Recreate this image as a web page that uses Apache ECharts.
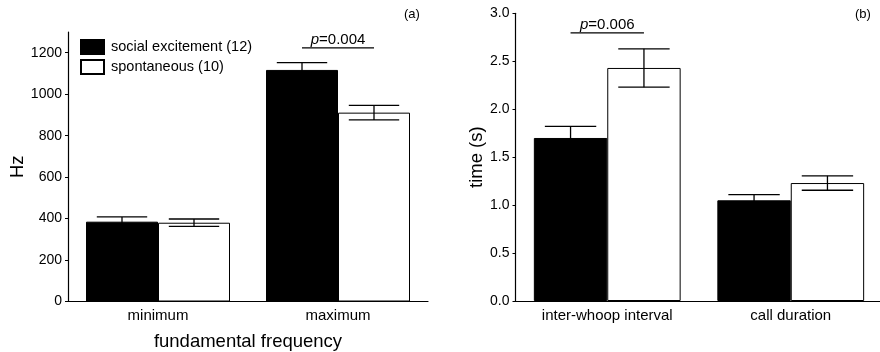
<!DOCTYPE html>
<html>
<head>
<meta charset="utf-8">
<script src="https://cdn.jsdelivr.net/npm/echarts@6/dist/echarts.min.js"></script>
<style>html,body{margin:0;padding:0;background:#fff}#c{width:880px;height:352px}</style>
</head>
<body>
<div id="c"></div>
<script>
// Panel (a): fundamental frequency
const categoriesA = ['minimum', 'maximum'];
const socialA = [385, 1117];
const socialErrA = [23, 35];
const spontA = [380, 911];
const spontErrA = [18, 35];
const yTicksA = [0, 200, 400, 600, 800, 1000, 1200];
const sigCatA = [1];
const sigYA = [1223];
const sigTextA = ['0.004'];

// Panel (b): timing
const categoriesB = ['inter-whoop interval', 'call duration'];
const socialB = [1.70, 1.05];
const socialErrB = [0.12, 0.06];
const spontB = [2.43, 1.23];
const spontErrB = [0.20, 0.075];
const yTicksB = [0, 0.5, 1.0, 1.5, 2.0, 2.5, 3.0];
const sigCatB = [0];
const sigYB = [2.795];
const sigTextB = ['0.006'];

const names = ['social excitement (12)', 'spontaneous (10)'];
const FONT = '"Liberation Sans", Arial, Helvetica, sans-serif';

function errData(vals, errs) {
  return vals.map((v, i) => [i, v - errs[i], v + errs[i]]);
}
function errRender(side) {
  return function (params, api) {
    const c = api.value(0);
    const lo = api.coord([c, api.value(1)]);
    const hi = api.coord([c, api.value(2)]);
    const cw = api.size([1, 0])[0];
    const x = lo[0] + side * 0.2 * cw;
    const half = 0.4 * cw * 0.35;
    const st = { stroke: '#000', lineWidth: 1.3 };
    return {
      type: 'group',
      children: [
        { type: 'line', shape: { x1: x, y1: lo[1], x2: x, y2: hi[1] }, style: st },
        { type: 'line', shape: { x1: x - half, y1: hi[1], x2: x + half, y2: hi[1] }, style: st },
        { type: 'line', shape: { x1: x - half, y1: lo[1], x2: x + half, y2: lo[1] }, style: st }
      ]
    };
  };
}
function sigRender(params, api) {
  const c = api.value(0);
  const p = api.coord([c, api.value(1)]);
  const cw = api.size([1, 0])[0];
  return {
    type: 'group',
    children: [
      { type: 'line', shape: { x1: p[0] - 0.2 * cw, y1: p[1], x2: p[0] + 0.2 * cw, y2: p[1] },
        style: { stroke: '#000', lineWidth: 1.2 } },
      { type: 'text', style: {
          text: '{i|p}=' + api.value(2),
          x: p[0], y: p[1] - 1, align: 'center', verticalAlign: 'bottom',
          fontSize: 15, fontFamily: FONT, fill: '#000',
          rich: { i: { fontStyle: 'italic', fontSize: 15, fontFamily: FONT, fill: '#000' } }
        } }
    ]
  };
}

const axisLabelBase = { color: '#000', fontSize: 14, fontFamily: FONT };
const catLabel = { color: '#000', fontSize: 15, fontFamily: FONT, margin: 7 };

const option = {
  animation: false,
  backgroundColor: '#fff',
  title: [
    { text: '(a)', left: 404, top: 8, padding: 0, textStyle: { fontSize: 13, fontWeight: 'normal', fontFamily: FONT, color: '#000' } },
    { text: '(b)', left: 855, top: 8, padding: 0, textStyle: { fontSize: 13, fontWeight: 'normal', fontFamily: FONT, color: '#000' } }
  ],
  legend: {
    data: names,
    orient: 'vertical',
    left: 80, top: 39, padding: 0,
    itemWidth: 23, itemHeight: 14, itemGap: 4,
    icon: 'rect',
    textStyle: { fontSize: 14.5, fontFamily: FONT, color: '#000', padding: [0, 0, 0, 2] }
  },
  grid: [
    { left: 68, top: 32, width: 360, height: 269.5, outerBoundsMode: 'none', containLabel: false },
    { left: 515.5, top: 13.3, width: 367, height: 287.7, outerBoundsMode: 'none', containLabel: false }
  ],
  xAxis: [
    { type: 'category', gridIndex: 0, data: categoriesA,
      axisLine: { lineStyle: { color: '#000', width: 1.2 } }, axisTick: { show: false },
      axisLabel: catLabel,
      name: 'fundamental frequency', nameLocation: 'middle', nameGap: 31,
      nameTextStyle: { fontSize: 18.5, fontFamily: FONT, color: '#000' } },
    { type: 'category', gridIndex: 1, data: categoriesB,
      axisLine: { lineStyle: { color: '#000', width: 1.2 } }, axisTick: { show: false },
      axisLabel: catLabel }
  ],
  yAxis: [
    { type: 'value', gridIndex: 0, min: 0, max: 1300, interval: 200,
      splitLine: { show: false },
      axisLine: { show: true, lineStyle: { color: '#000', width: 1.2 } },
      axisTick: { show: true, length: 3, customValues: yTicksA, lineStyle: { color: '#000' } },
      axisLabel: Object.assign({ customValues: yTicksA, margin: 6, formatter: v => String(v) }, axisLabelBase),
      name: 'Hz', nameLocation: 'middle', nameGap: 38, nameRotate: 90,
      nameTextStyle: { fontSize: 18.5, fontFamily: FONT, color: '#000' } },
    { type: 'value', gridIndex: 1, min: 0, max: 3, interval: 0.5,
      splitLine: { show: false },
      axisLine: { show: true, lineStyle: { color: '#000', width: 1.2 } },
      axisTick: { show: true, length: 3, customValues: yTicksB, lineStyle: { color: '#000' } },
      axisLabel: Object.assign({ customValues: yTicksB, margin: 6, formatter: v => v.toFixed(1) }, axisLabelBase),
      name: 'time (s)', nameLocation: 'middle', nameGap: 28, nameRotate: 90,
      nameTextStyle: { fontSize: 18.5, fontFamily: FONT, color: '#000' } }
  ],
  series: [
    { name: names[0], type: 'bar', xAxisIndex: 0, yAxisIndex: 0, data: socialA,
      barGap: '0%', barCategoryGap: '20%',
      itemStyle: { color: '#000', borderColor: '#000', borderWidth: 1 } },
    { name: names[1], type: 'bar', xAxisIndex: 0, yAxisIndex: 0, data: spontA,
      barGap: '0%', barCategoryGap: '20%',
      itemStyle: { color: '#fff', borderColor: '#000', borderWidth: 1 } },
    { name: names[0], type: 'bar', xAxisIndex: 1, yAxisIndex: 1, data: socialB,
      barGap: '0%', barCategoryGap: '20%',
      itemStyle: { color: '#000', borderColor: '#000', borderWidth: 1 } },
    { name: names[1], type: 'bar', xAxisIndex: 1, yAxisIndex: 1, data: spontB,
      barGap: '0%', barCategoryGap: '20%',
      itemStyle: { color: '#fff', borderColor: '#000', borderWidth: 1 } },
    { type: 'custom', xAxisIndex: 0, yAxisIndex: 0, z: 5, clip: false,
      data: errData(socialA, socialErrA), renderItem: errRender(-1) },
    { type: 'custom', xAxisIndex: 0, yAxisIndex: 0, z: 5, clip: false,
      data: errData(spontA, spontErrA), renderItem: errRender(1) },
    { type: 'custom', xAxisIndex: 1, yAxisIndex: 1, z: 5, clip: false,
      data: errData(socialB, socialErrB), renderItem: errRender(-1) },
    { type: 'custom', xAxisIndex: 1, yAxisIndex: 1, z: 5, clip: false,
      data: errData(spontB, spontErrB), renderItem: errRender(1) },
    { type: 'custom', xAxisIndex: 0, yAxisIndex: 0, z: 5, clip: false,
      data: sigCatA.map((c, i) => [c, sigYA[i], sigTextA[i]]), renderItem: sigRender },
    { type: 'custom', xAxisIndex: 1, yAxisIndex: 1, z: 5, clip: false,
      data: sigCatB.map((c, i) => [c, sigYB[i], sigTextB[i]]), renderItem: sigRender }
  ]
};
const chart = echarts.init(document.getElementById('c'), null, { renderer: 'canvas' });
chart.setOption(option);
</script>
</body>
</html>
